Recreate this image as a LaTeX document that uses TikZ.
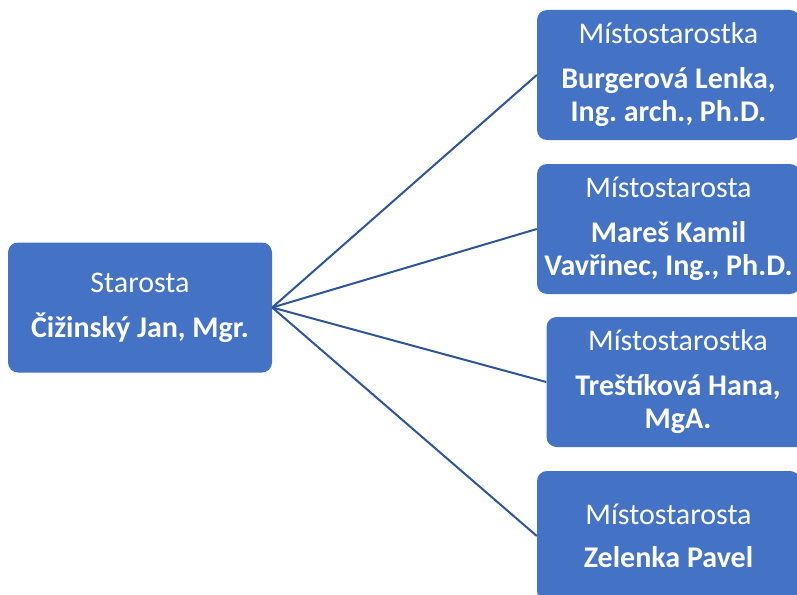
\documentclass[tikz,border=0pt]{standalone}
\usepackage{fontspec}
\setmainfont{Carlito}
\frenchspacing
\definecolor{boxblue}{HTML}{4472C4}
\definecolor{lineblue}{HTML}{2F5597}
\begin{document}
\begin{tikzpicture}[x=1pt,y=-1pt,
  box/.style={fill=boxblue, rounded corners=10pt, text=white, align=center,
    font=\fontsize{30}{33}\selectfont, minimum width=263pt, minimum height=130pt, inner sep=0pt},
  link/.style={draw=lineblue, line width=2pt}]
\useasboundingbox (0,0) rectangle (797,594);
\node[box, minimum width=264pt] (s) at (140,307.5) {Starosta\\[12pt]\textbf{Čižinský Jan, Mgr.}};
\node[box] (b1) at (668.5,75) {Místostarostka\\[12pt]\textbf{Burgerová Lenka,}\\\textbf{Ing. arch., Ph.D.}};
\node[box] (b2) at (668.5,229) {Místostarosta\\[12pt]\textbf{Mareš Kamil}\\\textbf{Vavřinec, Ing., Ph.D.}};
\node[box] (b3) at (678,382) {Místostarostka\\[12pt]\textbf{Treštíková Hana,}\\\textbf{MgA.}};
\node[box] (b4) at (668.5,536) {Místostarosta\\[10pt]\textbf{Zelenka Pavel}};
\foreach \b in {b1,b2,b3,b4} \draw[link] (s.east) -- (\b.west);
\end{tikzpicture}
\end{document}
